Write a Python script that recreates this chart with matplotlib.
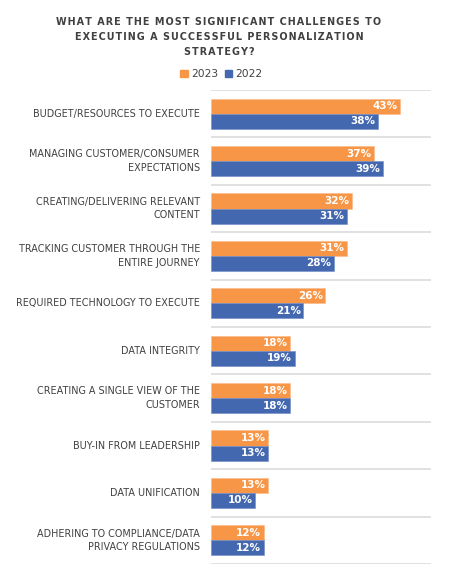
import matplotlib
matplotlib.use("Agg")
import matplotlib.pyplot as plt
from matplotlib.patches import Patch
import numpy as np

categories = [
    "BUDGET/RESOURCES TO EXECUTE",
    "MANAGING CUSTOMER/CONSUMER\nEXPECTATIONS",
    "CREATING/DELIVERING RELEVANT\nCONTENT",
    "TRACKING CUSTOMER THROUGH THE\nENTIRE JOURNEY",
    "REQUIRED TECHNOLOGY TO EXECUTE",
    "DATA INTEGRITY",
    "CREATING A SINGLE VIEW OF THE\nCUSTOMER",
    "BUY-IN FROM LEADERSHIP",
    "DATA UNIFICATION",
    "ADHERING TO COMPLIANCE/DATA\nPRIVACY REGULATIONS",
]
values_2023 = [43, 37, 32, 31, 26, 18, 18, 13, 13, 12]
values_2022 = [38, 39, 31, 28, 21, 19, 18, 13, 10, 12]
series_names = ["2023", "2022"]
title = "WHAT ARE THE MOST SIGNIFICANT CHALLENGES TO\nEXECUTING A SUCCESSFUL PERSONALIZATION\nSTRATEGY?"

orange = "#F79646"
blue = "#4368B0"
text_col = "#404040"


def track(s):
    # widen letter spacing with hair spaces
    return "\n".join("\u200a".join(line) for line in s.split("\n"))


fig = plt.figure(figsize=(4.62, 5.83), dpi=100)
ax = fig.add_axes([211/462, 19/583, (431-211)/462, (564-90)/583])

y = np.arange(len(categories))
h = 0.32
ax.barh(y - h/2, values_2023, height=h, color=orange, edgecolor="#FBB98A", linewidth=0.4)
ax.barh(y + h/2, values_2022, height=h, color=blue, edgecolor="#6F8CC6", linewidth=0.4)

for yi, v in zip(y, values_2023):
    ax.text(v - 0.6, yi - h/2, f"{v}%", ha="right", va="center", color="white",
            fontsize=7.5, fontweight="bold")
for yi, v in zip(y, values_2022):
    ax.text(v - 0.6, yi + h/2, f"{v}%", ha="right", va="center", color="white",
            fontsize=7.5, fontweight="bold")

ax.set_xlim(0, 50)
ax.set_ylim(len(categories) - 0.5, -0.5)
for b in np.arange(-0.5, len(categories) + 0.5, 1):
    ax.axhline(b, color="#DCDCDC", linewidth=1.2, zorder=0)
for s in ax.spines.values():
    s.set_visible(False)
ax.set_xticks([])
ax.set_yticks([])

for yi, c in zip(y, categories):
    ax.annotate(c, xy=(0, yi), xytext=(-8, 0), textcoords="offset points",
                xycoords=("axes fraction", "data"), ha="right", va="center",
                fontsize=6.9, color=text_col, linespacing=1.45)

fig.text(0.474, 1 - 37/583, track(title), ha="center", va="center", fontsize=6.9,
         fontweight="bold", color=text_col, linespacing=1.6)

handles = [Patch(color=orange), Patch(color=blue)]
fig.legend(handles, series_names, loc="center", bbox_to_anchor=(0.479, 1 - 74/583),
           ncol=2, frameon=False, fontsize=7.7, handlelength=0.7, handleheight=0.7,
           handletextpad=0.3, columnspacing=0.6, labelcolor=text_col)

fig.savefig("out.png", dpi=100, facecolor="white")
